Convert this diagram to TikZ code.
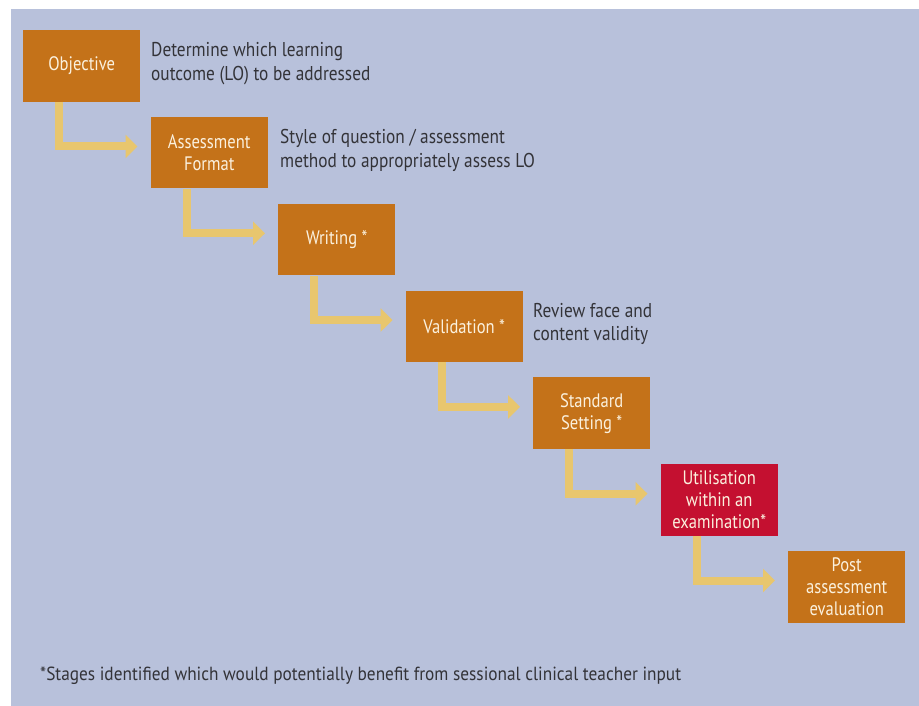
\documentclass[tikz,border=0pt]{standalone}
\usepackage{fontspec}
\setmainfont{PT Sans}[FakeStretch=0.85]
\newfontfamily\descfont{PT Sans}[FakeStretch=0.865]
\newfontfamily\notefont{PT Sans}[FakeStretch=0.91]
\usetikzlibrary{arrows.meta,calc}
\definecolor{bgblue}{HTML}{B8C1DB}
\definecolor{stageorange}{HTML}{C47219}
\definecolor{stagered}{HTML}{C41030}
\definecolor{flowyellow}{HTML}{E8C66E}
\definecolor{boxtext}{HTML}{FBF1DE}
\definecolor{desctext}{HTML}{333338}
\tikzset{
  stagebox/.style={fill=stageorange, text=boxtext, minimum width=117pt, minimum height=71.5pt,
    inner sep=0pt, align=center, anchor=north west, font=\fontsize{19.5}{22}\selectfont},
  redbox/.style={stagebox, fill=stagered},
  flow/.style={draw=flowyellow, line width=8pt, line join=miter, -{Triangle[length=12pt,width=23pt]}},
  desc/.style={text=desctext, align=left, anchor=north west, inner sep=0pt, font=\descfont\fontsize{20}{23.5}\selectfont},
}
\begin{document}
\begin{tikzpicture}[x=1pt,y=-1pt]
\fill[white] (0,0) rectangle (919,706);
\fill[bgblue] (11,9) rectangle (919,706);
\useasboundingbox (0,0) rectangle (919,706);
\node[stagebox] (obj) at (23,30) {Objective};
\node[stagebox] (af) at (150.5,116.8) {Assessment\\Format};
\node[stagebox] (wr) at (278,203.6) {Writing *};
\node[stagebox] (va) at (405.5,290.4) {Validation *};
\node[stagebox] (ss) at (533,377.2) {Standard\\Setting *};
\node[redbox] (ut) at (660.5,464) {Utilisation\\within an\\examination*};
\node[stagebox] (pa) at (788,550.8) {Post\\assessment\\evaluation};
\foreach \a/\b in {obj/af,af/wr,wr/va,va/ss,ss/ut,ut/pa}{
  \draw[flow] ($(\a.south west)+(36pt,0)$) |- ($(\b.north west)+(-13pt,-29.7pt)$);
}
\node[desc] (d1) at (151,42.3) {Determine which learning\\outcome (LO) to be addressed};
\node[desc] (d2) at (280,129.1) {Style of question / assessment\\method to appropriately assess LO};
\node[desc] (d3) at (533,302.8) {Review face and\\content validity};
\node[text=desctext, anchor=base west, inner sep=0pt, font=\notefont\fontsize{19}{23}\selectfont] (note) at (40,680.3) {*Stages identified which would potentially benefit from sessional clinical teacher input};
\end{tikzpicture}
\end{document}
